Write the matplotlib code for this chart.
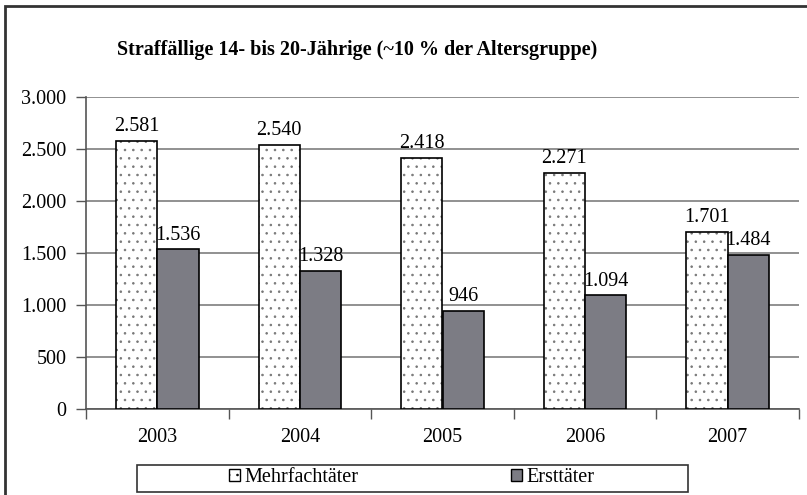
import matplotlib
matplotlib.use("Agg")
import matplotlib.pyplot as plt
from matplotlib.patches import Rectangle
import numpy as np

years = ["2003", "2004", "2005", "2006", "2007"]
mehrfach = [2581, 2540, 2418, 2271, 1701]
erst = [1536, 1328, 946, 1094, 1484]
series_names = ["Mehrfachtäter", "Ersttäter"]
yticks = [0, 500, 1000, 1500, 2000, 2500, 3000]

def fmt(v):
    return f"{v:,}".replace(",", ".")

plt.rcParams['font.family'] = ['Liberation Serif', 'DejaVu Serif']
plt.rcParams['hatch.linewidth'] = 0.6
plt.rcParams['hatch.color'] = '#777777'

FS = 14.5

fig = plt.figure(figsize=(8.07, 4.95), dpi=100)
ax = fig.add_axes([86/807, 1-409/495, (799-86)/807, (409-97)/495])

x = np.arange(len(years))
w = 0.29
xm = x - w/2
xe = x + w/2

# dotted bars: hatch layer + outline layer
ax.bar(xm, mehrfach, w, color='white', edgecolor='#777777', hatch='..', linewidth=0, zorder=3)
ax.bar(xm, mehrfach, w, fill=False, edgecolor='black', linewidth=1.2, zorder=4)
ax.bar(xe, erst, w, color='#7c7c84', edgecolor='black', linewidth=1.2, zorder=4)

for xi, v in zip(xm, mehrfach):
    ax.text(xi, v + 45, fmt(v), ha='center', va='bottom', fontsize=FS)
for xi, v in zip(xe, erst):
    ax.text(xi, v + 45, fmt(v), ha='center', va='bottom', fontsize=FS)

ax.set_ylim(0, 3000)
ax.set_xlim(-0.5, len(years) - 0.5)
ax.set_yticks(yticks)
ax.set_yticklabels([fmt(v) for v in yticks], fontsize=FS)
ax.set_xticks(x)
ax.set_xticklabels(years, fontsize=FS)
ax.set_xticks(np.arange(len(years) + 1) - 0.5, minor=True)
ax.tick_params(axis='x', which='major', length=0, pad=14)
ax.tick_params(axis='x', which='minor', length=7, direction='out', color='#555555', width=1)
ax.tick_params(axis='y', length=7, direction='out', color='#555555', width=1, pad=7)

ax.yaxis.grid(True, color='#888888', linewidth=1.3, zorder=0)
ax.set_axisbelow(True)
for s in ['top', 'right']:
    ax.spines[s].set_visible(False)
for s in ['left', 'bottom']:
    ax.spines[s].set_color('#555555')
    ax.spines[s].set_linewidth(1.2)

fig.text(0.5 * (118 + 597) / 807, 1 - 50/495, "Straffällige 14- bis 20-Jährige (~10 % der Altersgruppe)",
         ha='center', va='center', fontsize=FS, fontweight='bold')

# figure border
fig.patches.append(Rectangle((5/807, -0.1), 1.2, 1 - 6/495 + 0.1, transform=fig.transFigure,
                             fill=False, edgecolor='#333333', linewidth=2))

# legend box
fig.patches.append(Rectangle((137/807, 1 - 492/495), (688-137)/807, (492-465)/495,
                             transform=fig.transFigure, fill=False, edgecolor='#333333', linewidth=1.2))
h1 = Rectangle((0, 0), 1, 1, facecolor='white', edgecolor='black', hatch='..', linewidth=1)
h2 = Rectangle((0, 0), 1, 1, facecolor='#7c7c84', edgecolor='black', linewidth=1)
leg = fig.legend([h1, h2], series_names, loc='center left',
                 bbox_to_anchor=(229/807, 1 - 478/495), ncol=2, frameon=False,
                 fontsize=FS, handlelength=0.55, handleheight=0.55, handletextpad=0.2,
                 columnspacing=7.6, borderpad=0, borderaxespad=0)

fig.savefig("out.png", dpi=100)
